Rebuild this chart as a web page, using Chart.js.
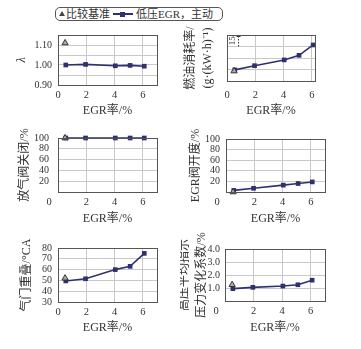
<!DOCTYPE html>
<html>
<head>
<meta charset="utf-8">
<script src="https://cdn.jsdelivr.net/npm/chart.js@4"></script>
<style>
  body { margin: 0; width: 361px; height: 349px; position: relative; overflow: hidden; background: #fff;
         font-family: 'Liberation Serif', 'Noto Sans CJK SC', serif; color: #333; }
  canvas { position: absolute; }
  #legend { position: absolute; left: 55px; top: 7px; width: 166px; height: 12px; border: 1px solid #555;
            border-radius: 5px; font-size: 11px; }
  #legend span { position: absolute; top: 0; line-height: 12px; white-space: nowrap; }
  .tri { left: 3px; top: 3px !important; width: 0; height: 0; border-left: 3px solid transparent;
         border-right: 3px solid transparent; border-bottom: 5px solid #444; }
  .ln { left: 57px; top: 5px !important; width: 20px; height: 2px; background: #2e3170; }
  .sq { left: 64px; top: 3.5px !important; width: 5px; height: 5px; background: #2e3170; }
</style>
</head>
<body>
<div id="legend">
  <span class="tri"></span><span style="left:10px">比较基准</span>
  <span class="ln"></span><span class="sq"></span>
  <span style="left:80px">低压EGR，主动</span>
</div>
<script>
// EGR rate (x) for the low-pressure EGR series and the baseline point
const egrRate = [0.55, 1.95, 4.05, 5.1, 6.1];
const baseRate = 0.5;

// series values
const lambda = [1.000, 1.003, 0.996, 0.998, 0.994];
const lambdaBase = 1.11;
const bsfc = [214.5, 220, 227.5, 233.5, 247];   // g/(kW·h), relative scale (one grid = 15)
const bsfcBase = 213;
const wastegateClosed = [100, 100, 100, 100, 100];
const wastegateBase = 100;
const egrValveOpen = [3, 7, 13, 16, 19];
const egrValveBase = 0;
const valveOverlap = [49.5, 51.5, 60, 63, 75];
const overlapBase = 52;
const imepCov = [0.95, 1.05, 1.15, 1.25, 1.6];
const imepBase = 1.25;

const xTicks = [0, 2, 4, 6];

const FONT = "'Liberation Serif', 'Noto Sans CJK SC', serif";
const LINE = '#2e3170';
const GRID = '#c8c8c8';
Chart.defaults.font.family = FONT;
Chart.defaults.color = '#333';

const framePlugin = {
  id: 'frame',
  afterDraw(chart) {
    const a = chart.chartArea, ctx = chart.ctx;
    ctx.save();
    ctx.strokeStyle = '#555';
    ctx.lineWidth = 1;
    ctx.strokeRect(Math.round(a.left) + 0.5, Math.round(a.top) + 0.5,
                   Math.round(a.right - a.left), Math.round(a.bottom - a.top));
    const o = chart.options.plugins.extra || {};
    ctx.fillStyle = '#333';
    if (o.cornerZero) {
      ctx.font = '10.5px ' + FONT;
      ctx.textAlign = 'center';
      ctx.textBaseline = 'middle';
      ctx.fillText('0', a.left - 9, a.bottom + 10);
    }
    if (o.scaleBar) {
      const y = chart.scales.y;
      const top = y.getPixelForValue(y.max), bot = y.getPixelForValue(y.max - 15);
      ctx.save();
      ctx.translate(a.left + 6, (top + bot) / 2);
      ctx.rotate(-Math.PI / 2);
      ctx.font = '9px ' + FONT;
      ctx.textAlign = 'center';
      ctx.textBaseline = 'middle';
      ctx.fillText('15', 0, 0);
      ctx.restore();
      ctx.strokeStyle = '#333';
      ctx.setLineDash([1.5, 1.5]);
      ctx.beginPath();
      ctx.moveTo(a.left + 11.5, top + 1);
      ctx.lineTo(a.left + 11.5, bot);
      ctx.stroke();
      ctx.setLineDash([]);
      ctx.beginPath();
      ctx.moveTo(a.left + 9.5, top + 1.5);
      ctx.lineTo(a.left + 13.5, top + 1.5);
      ctx.stroke();
    }
    ctx.restore();
  }
};

function build(box, area, spec) {
  const [cx, cy, w, h] = box;
  const [L, T, R, B] = area;
  const cv = document.createElement('canvas');
  cv.width = w; cv.height = h;
  cv.style.left = cx + 'px'; cv.style.top = cy + 'px';
  document.body.appendChild(cv);

  const series = egrRate.map((x, i) => ({ x, y: spec.values[i] }));
  new Chart(cv, {
    type: 'scatter',
    data: {
      datasets: [
        {
          data: [{ x: baseRate, y: spec.base }], clip: false,
          pointStyle: 'triangle', pointRadius: 3.6,
          backgroundColor: '#aaa', borderColor: '#333', borderWidth: 1, showLine: false
        },
        {
          data: series, showLine: true, tension: 0, clip: false,
          borderColor: LINE, borderWidth: 1.6,
          pointStyle: 'rect', pointRadius: 3.3, backgroundColor: LINE, pointBorderWidth: 0
        }
      ]
    },
    options: {
      responsive: false, animation: false, devicePixelRatio: 1,
      layout: { padding: { left: 0, top: T - cy, right: cx + w - R, bottom: 0 } },
      plugins: { legend: { display: false }, tooltip: { enabled: false },
                 extra: { cornerZero: spec.cornerZero, scaleBar: spec.scaleBar } },
      scales: {
        x: {
          type: 'linear', min: 0, max: spec.xMax || 7,
          afterBuildTicks: s => { s.ticks = xTicks.map(v => ({ value: v })); },
          afterFit: s => { s.height = cy + h - B; },
          grid: { color: GRID, drawTicks: false },
          border: { display: false },
          ticks: { padding: spec.xPad || 4, font: { size: 10.5 }, autoSkip: false, maxRotation: 0,
                   callback: v => (spec.cornerZero && v === 0) ? '' : String(v) },
          title: { display: true, text: 'EGR率/%', font: { size: 12, lineHeight: 1.2 },
                   padding: { top: 0, bottom: 1.8 } }
        },
        y: {
          type: 'linear', min: spec.min, max: spec.max,
          afterFit: s => { s.width = L - cx; },
          grid: { color: GRID, drawTicks: false },
          border: { display: false },
          ticks: { stepSize: spec.step, padding: spec.tickPad, font: { size: 10, lineHeight: 1 },
                   autoSkip: false, callback: spec.fmt },
          title: { display: true, text: spec.title,
                   font: { size: 12, lineHeight: 1.4, style: spec.italic ? 'italic' : 'normal' },
                   padding: { top: spec.titleX - 8.4, bottom: 0 } }
        }
      }
    },
    plugins: [framePlugin]
  });
}

build([0, 24, 180, 96], [58, 33, 157, 85], {
  values: lambda, base: lambdaBase, min: 0.9, max: 1.15, step: 0.05, tickPad: 6,
  fmt: v => (Math.round(v * 100) % 10 === 0 ? v.toFixed(2) : ''),
  title: 'λ', italic: true, titleX: 22
});
build([180, 24, 181, 96], [227, 33, 315, 81], {
  values: bsfc, base: bsfcBase, min: 200, max: 260, step: 15, tickPad: 6, xMax: 6.23, xPad: 8,
  fmt: () => '', scaleBar: true,
  title: ['燃油消耗率/', '(g·(kW·h)⁻¹)'], titleX: 11
});
build([0, 120, 180, 108], [58, 138, 157, 192], {
  values: wastegateClosed, base: wastegateBase, min: 0, max: 100, step: 20, tickPad: 9,
  fmt: v => (v === 0 ? '' : String(v)), cornerZero: true,
  title: '放气阀关闭/%', titleX: 25
});
build([180, 120, 181, 108], [226, 139, 325, 192], {
  values: egrValveOpen, base: egrValveBase, min: 0, max: 100, step: 20, tickPad: 6,
  fmt: v => (v === 0 ? '' : String(v)), cornerZero: true,
  title: 'EGR阀开度/%', titleX: 16
});
build([0, 228, 180, 109], [58, 248, 157, 302], {
  values: valveOverlap, base: overlapBase, min: 30, max: 80, step: 10, tickPad: 6,
  fmt: v => String(v),
  title: '气门重叠/°CA', titleX: 27
});
build([180, 228, 181, 109], [225, 249, 325, 301], {
  values: imepCov, base: imepBase, min: 0, max: 4, step: 1, tickPad: 5,
  fmt: v => (v === 0 ? '' : v.toFixed(1)), cornerZero: true,
  title: ['高压平均指示', '压力变化系数/%'], titleX: 5
});
</script>
</body>
</html>
